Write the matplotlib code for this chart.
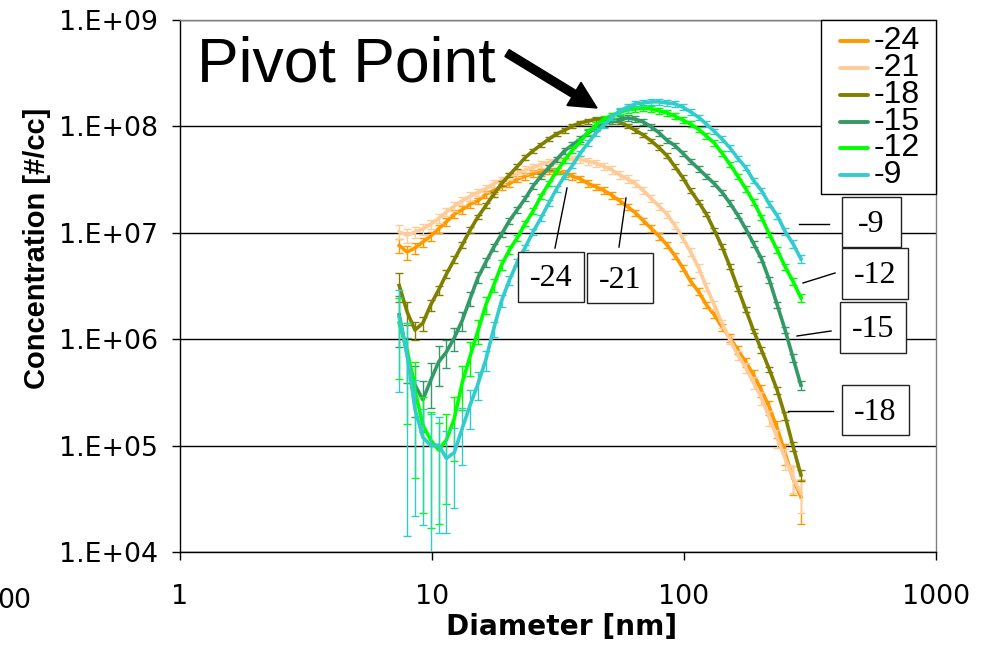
import numpy as np
import matplotlib
matplotlib.use("Agg")
import matplotlib.pyplot as plt
from matplotlib.lines import Line2D
from matplotlib.patches import Rectangle, FancyArrow
from matplotlib.transforms import IdentityTransform
from matplotlib.ticker import FixedLocator, FixedFormatter, NullLocator

# ---------------- data ----------------
series_labels = ["-24", "-21", "-18", "-15", "-12", "-9"]
series_colors = ["#FF9900", "#FFCC99", "#808000", "#339966", "#00FF00", "#33CCCC"]

diameter_nm = [7.41, 7.97, 8.56, 9.20, 9.88, 10.62, 11.41, 12.26, 13.18, 14.16,
               15.22, 16.35, 17.57, 18.88, 20.29, 21.80, 23.44, 25.18, 27.06, 29.08,
               31.25, 33.58, 36.09, 38.78, 41.67, 44.78, 48.12, 51.71, 55.57, 59.71,
               64.17, 68.96, 74.13, 79.66, 85.60, 91.99, 98.85, 106.2, 114.2, 122.7,
               131.8, 141.6, 152.2, 163.6, 175.8, 188.9, 203.0, 218.1, 234.4, 251.9,
               270.7, 290.9]

conc_m24 = [7.6e6, 6.6e6, 7.2e6, 8.2e6, 9.3e6, 1.09e7, 1.27e7, 1.5e7, 1.65e7, 1.86e7,
            2.0e7, 2.3e7, 2.5e7, 2.7e7, 2.9e7, 3.2e7, 3.4e7, 3.6e7, 3.7e7, 3.8e7,
            3.8e7, 3.6e7, 3.4e7, 3.2e7, 2.9e7, 2.7e7, 2.5e7, 2.25e7, 2.0e7, 1.76e7,
            1.54e7, 1.3e7, 1.1e7, 9.3e6, 7.7e6, 6.1e6, 4.7e6, 3.5e6, 2.8e6, 2.1e6,
            1.7e6, 1.3e6, 1.03e6, 7.9e5, 6.1e5, 4.6e5, 3.3e5, 2.3e5, 1.45e5, 8.5e4,
            4.9e4, 3.3e4]
conc_m21 = [1.02e7, 9.5e6, 1.02e7, 1.09e7, 1.2e7, 1.36e7, 1.57e7, 1.78e7, 2.0e7, 2.2e7,
            2.4e7, 2.6e7, 2.9e7, 3.1e7, 3.4e7, 3.6e7, 3.9e7, 4.1e7, 4.4e7, 4.6e7,
            4.8e7, 4.9e7, 4.9e7, 4.9e7, 4.7e7, 4.5e7, 4.2e7, 3.9e7, 3.5e7, 3.2e7,
            2.9e7, 2.5e7, 2.1e7, 1.78e7, 1.5e7, 1.17e7, 8.9e6, 6.6e6, 4.7e6, 3.1e6,
            2.1e6, 1.4e6, 9.8e5, 7.1e5, 5.4e5, 3.9e5, 2.8e5, 1.83e5, 1.18e5, 7.6e4,
            5.0e4, 3.6e4]
conc_m18 = [3.2e6, 1.8e6, 1.22e6, 1.42e6, 2.1e6, 2.9e6, 4.1e6, 5.6e6, 7.7e6, 1.06e7,
            1.41e7, 1.8e7, 2.3e7, 2.9e7, 3.5e7, 4.2e7, 5.1e7, 5.9e7, 6.7e7, 7.6e7,
            8.5e7, 9.2e7, 1.01e8, 1.08e8, 1.12e8, 1.17e8, 1.17e8, 1.15e8, 1.10e8, 1.01e8,
            9.2e7, 8.3e7, 7.3e7, 6.3e7, 5.3e7, 4.2e7, 3.3e7, 2.5e7, 1.95e7, 1.5e7,
            1.06e7, 7.4e6, 4.8e6, 3.0e6, 1.9e6, 1.2e6, 7.9e5, 5.2e5, 3.3e5, 1.9e5,
            9.9e4, 5.3e4]
conc_m15 = [1.7e6, 7.1e5, 3.7e5, 2.7e5, 4.1e5, 6.1e5, 7.6e5, 1.03e6, 1.5e6, 2.4e6,
            3.8e6, 5.3e6, 7.3e6, 9.7e6, 1.3e7, 1.65e7, 2.1e7, 2.75e7, 3.4e7, 4.1e7,
            4.9e7, 5.9e7, 6.7e7, 7.6e7, 8.7e7, 9.7e7, 1.05e8, 1.12e8, 1.17e8, 1.2e8,
            1.17e8, 1.10e8, 9.9e7, 8.7e7, 7.4e7, 6.6e7, 5.6e7, 4.7e7, 4.0e7, 3.4e7,
            2.9e7, 2.4e7, 1.9e7, 1.46e7, 1.09e7, 7.9e6, 5.7e6, 3.6e6, 2.1e6, 1.22e6,
            6.7e5, 3.7e5]
conc_m12 = [1.42e6, 7.9e5, 3.3e5, 1.56e5, 1.13e5, 9.1e4, 1.13e5, 1.8e5, 3.9e5, 6.9e5,
            1.2e6, 2.1e6, 3.2e6, 5.0e6, 6.9e6, 9.0e6, 1.22e7, 1.6e7, 2.2e7, 2.9e7,
            3.8e7, 4.8e7, 6.0e7, 7.2e7, 8.9e7, 1.03e8, 1.17e8, 1.27e8, 1.36e8, 1.43e8,
            1.46e8, 1.49e8, 1.46e8, 1.40e8, 1.34e8, 1.25e8, 1.15e8, 1.05e8, 9.4e7, 8.1e7,
            7.0e7, 5.6e7, 4.4e7, 3.4e7, 2.6e7, 1.95e7, 1.4e7, 9.7e6, 6.9e6, 4.8e6,
            3.5e6, 2.45e6]
conc_m9 = [1.6e6, 7.1e5, 2.2e5, 1.2e5, 1.0e5, 1.01e5, 7.6e4, 8.6e4, 1.45e5, 2.4e5,
           3.8e5, 6.4e5, 1.25e6, 2.3e6, 3.6e6, 5.3e6, 7.3e6, 1.02e7, 1.38e7, 1.9e7,
           2.6e7, 3.4e7, 4.3e7, 5.6e7, 7.0e7, 8.7e7, 1.03e8, 1.22e8, 1.40e8, 1.52e8,
           1.63e8, 1.66e8, 1.70e8, 1.70e8, 1.66e8, 1.63e8, 1.52e8, 1.37e8, 1.22e8, 1.05e8,
           9.0e7, 7.6e7, 6.3e7, 5.0e7, 4.1e7, 3.1e7, 2.5e7, 1.86e7, 1.45e7, 1.03e7,
           7.9e6, 5.7e6]

# relative uncertainty of each point (fraction of the concentration)
err_m24 = [0.15, 0.15, 0.12, 0.10, 0.10, 0.09, 0.09, 0.09, 0.08, 0.08,
           0.07, 0.07, 0.07, 0.07, 0.07, 0.07, 0.07, 0.07, 0.07, 0.07,
           0.07, 0.07, 0.07, 0.07, 0.07, 0.07, 0.07, 0.07, 0.07, 0.07,
           0.07, 0.07, 0.07, 0.07, 0.07, 0.07, 0.07, 0.07, 0.07, 0.07,
           0.07, 0.08, 0.08, 0.09, 0.10, 0.11, 0.13, 0.15, 0.18, 0.22,
           0.30, 0.45]
err_m21 = [0.15, 0.15, 0.12, 0.12, 0.10, 0.10, 0.09, 0.09, 0.09, 0.09,
           0.08, 0.08, 0.08, 0.08, 0.08, 0.08, 0.08, 0.08, 0.08, 0.08,
           0.08, 0.08, 0.08, 0.08, 0.08, 0.08, 0.08, 0.08, 0.08, 0.08,
           0.08, 0.08, 0.08, 0.08, 0.08, 0.08, 0.08, 0.08, 0.08, 0.08,
           0.08, 0.09, 0.09, 0.10, 0.11, 0.12, 0.14, 0.16, 0.19, 0.23,
           0.28, 0.35]
err_m18 = [0.30, 0.25, 0.20, 0.15, 0.12, 0.10, 0.08, 0.07, 0.06, 0.06,
           0.05, 0.05, 0.05, 0.05, 0.05, 0.05, 0.05, 0.05, 0.05, 0.05,
           0.05, 0.05, 0.05, 0.05, 0.05, 0.05, 0.05, 0.05, 0.05, 0.05,
           0.05, 0.05, 0.05, 0.05, 0.05, 0.05, 0.05, 0.05, 0.05, 0.05,
           0.05, 0.05, 0.05, 0.05, 0.05, 0.05, 0.06, 0.06, 0.07, 0.08,
           0.10, 0.12]
err_m15 = [0.50, 0.45, 0.50, 0.50, 0.45, 0.40, 0.30, 0.25, 0.20, 0.15,
           0.12, 0.10, 0.08, 0.06, 0.06, 0.06, 0.06, 0.06, 0.06, 0.06,
           0.06, 0.06, 0.06, 0.06, 0.06, 0.06, 0.06, 0.06, 0.06, 0.06,
           0.06, 0.06, 0.06, 0.06, 0.06, 0.06, 0.06, 0.06, 0.06, 0.06,
           0.06, 0.06, 0.06, 0.06, 0.06, 0.06, 0.06, 0.06, 0.07, 0.07,
           0.08, 0.09]
err_m12 = [0.70, 0.80, 0.85, 0.85, 0.85, 0.80, 0.75, 0.60, 0.45, 0.35,
           0.25, 0.18, 0.14, 0.10, 0.08, 0.06, 0.06, 0.06, 0.06, 0.06,
           0.06, 0.06, 0.06, 0.06, 0.06, 0.06, 0.06, 0.06, 0.06, 0.06,
           0.06, 0.06, 0.06, 0.06, 0.06, 0.06, 0.06, 0.06, 0.06, 0.06,
           0.06, 0.06, 0.06, 0.06, 0.06, 0.06, 0.06, 0.06, 0.07, 0.07,
           0.08, 0.09]
err_m9 = [0.80, 0.98, 0.90, 0.85, 0.98, 0.85, 0.80, 0.70, 0.55, 0.40,
          0.30, 0.22, 0.16, 0.12, 0.10, 0.08, 0.06, 0.06, 0.06, 0.06,
          0.06, 0.06, 0.06, 0.06, 0.06, 0.06, 0.06, 0.06, 0.06, 0.06,
          0.06, 0.06, 0.06, 0.06, 0.06, 0.06, 0.06, 0.06, 0.06, 0.06,
          0.06, 0.06, 0.06, 0.06, 0.06, 0.06, 0.06, 0.06, 0.07, 0.07,
          0.08, 0.09]

concentrations = [conc_m24, conc_m21, conc_m18, conc_m15, conc_m12, conc_m9]
rel_errors = [err_m24, err_m21, err_m18, err_m15, err_m12, err_m9]

x_ticks = [1, 10, 100, 1000]
x_tick_labels = ["1", "10", "100", "1000"]
y_ticks = [1e4, 1e5, 1e6, 1e7, 1e8, 1e9]
y_tick_labels = ["1.E+04", "1.E+05", "1.E+06", "1.E+07", "1.E+08", "1.E+09"]

# ---------------- figure ----------------
W, H = 989, 646
fig = plt.figure(figsize=(W / 100, H / 100), dpi=100)
fig.patch.set_facecolor("white")


def fx(px):
    return px / W


def fy(py):
    return 1 - py / H


ax = fig.add_axes([fx(180), fy(552), (936 - 180) / W, (552 - 20) / H])
ax.set_xscale("log")
ax.set_yscale("log")
ax.set_xlim(1, 1000)
ax.set_ylim(1e4, 1e9)

for i, (vals, rel, col) in enumerate(zip(concentrations, rel_errors, series_colors)):
    c = np.asarray(vals)
    e = np.asarray(rel) * c
    ax.errorbar(diameter_nm, c, yerr=e, color=col, ecolor=col, lw=2.6,
                elinewidth=1.0, capsize=2.6, capthick=1.0, zorder=3 + i)

# axes styling
ax.yaxis.grid(True, which="major", color="black", lw=1.0)
ax.set_axisbelow(True)
for side in ("top", "right"):
    ax.spines[side].set_color("#808080")
for side in ("left", "bottom"):
    ax.spines[side].set_color("black")
for sp in ax.spines.values():
    sp.set_linewidth(1.0)

ax.xaxis.set_major_locator(FixedLocator(x_ticks))
ax.xaxis.set_major_formatter(FixedFormatter(x_tick_labels))
ax.yaxis.set_major_locator(FixedLocator(y_ticks))
ax.yaxis.set_major_formatter(FixedFormatter(y_tick_labels))
ax.xaxis.set_minor_locator(NullLocator())
ax.yaxis.set_minor_locator(NullLocator())
ax.tick_params(axis="both", which="major", direction="out", length=5.8, width=1.0,
               labelsize=19.3, color="black")
ax.tick_params(axis="x", pad=17)
ax.tick_params(axis="y", pad=10)
for lab in ax.get_xticklabels() + ax.get_yticklabels():
    lab.set_fontfamily("DejaVu Sans")

# clipped label at the far left of the x axis
fig.text(fx(31), fy(608), "00", ha="right", va="baseline", fontsize=19.3,
         family="DejaVu Sans")

# axis titles
fig.text(fx(562), fy(627), "Diameter [nm]", ha="center", va="center",
         fontsize=20.2, fontweight="bold", family="DejaVu Sans")
fig.text(fx(37), fy(248), "Concentration [#/cc]", ha="center", va="center",
         rotation=90, fontsize=21, fontweight="bold", family="Liberation Sans")

# legend box
fig.add_artist(Rectangle((fx(821), fy(194)), (936 - 821) / W, (194 - 20) / H,
                         transform=fig.transFigure, facecolor="white",
                         edgecolor="black", lw=1.0, zorder=10))
legend_rows = [41, 68, 95, 122, 148, 175]
for row, lab, col in zip(legend_rows, series_labels, series_colors):
    fig.add_artist(Line2D([fx(840), fx(868)], [fy(row), fy(row)],
                          transform=fig.transFigure, color=col, lw=2.8,
                          solid_capstyle="round", zorder=11))
    fig.text(fx(874), fy(row), lab, ha="left", va="center", fontsize=23,
             family="Liberation Sans", zorder=11)

# boxed series labels with leader lines
boxes = [
    ("-9", (842, 197, 901, 247), ((799, 224), (829, 224))),
    ("-12", (842, 248, 908, 299), ((803, 283), (835, 273))),
    ("-15", (840, 302, 906, 353), ((797, 336), (831, 331))),
    ("-18", (842, 385, 909, 435), ((788, 411), (833, 411))),
    ("-24", (518, 252, 584, 302), ((555, 248), (567, 188))),
    ("-21", (587, 253, 653, 303), ((619, 247), (626, 198))),
]
for text, (x0, y0, x1, y1), (p0, p1) in boxes:
    fig.add_artist(Line2D([fx(p0[0]), fx(p1[0])], [fy(p0[1]), fy(p1[1])],
                          transform=fig.transFigure, color="black", lw=1.0,
                          zorder=10))
    fig.add_artist(Rectangle((fx(x0), fy(y1)), (x1 - x0) / W, (y1 - y0) / H,
                             transform=fig.transFigure, facecolor="white",
                             edgecolor="#222222", lw=1.0, zorder=10))
    fig.text(fx((x0 + x1) / 2), fy((y0 + y1) / 2 + 2), text, ha="center",
             va="center", fontsize=23, family="Liberation Serif", zorder=11)

# pivot point callout
fig.text(fx(197), fy(82), "Pivot Point", ha="left", va="baseline", fontsize=45,
         family="Liberation Sans", zorder=11)
fig.add_artist(FancyArrow(507, H - 53, 90, -55, width=8, head_width=27,
                          head_length=27, length_includes_head=True,
                          color="black", transform=IdentityTransform(),
                          zorder=11))

fig.savefig("out.png", dpi=100, facecolor="white")
